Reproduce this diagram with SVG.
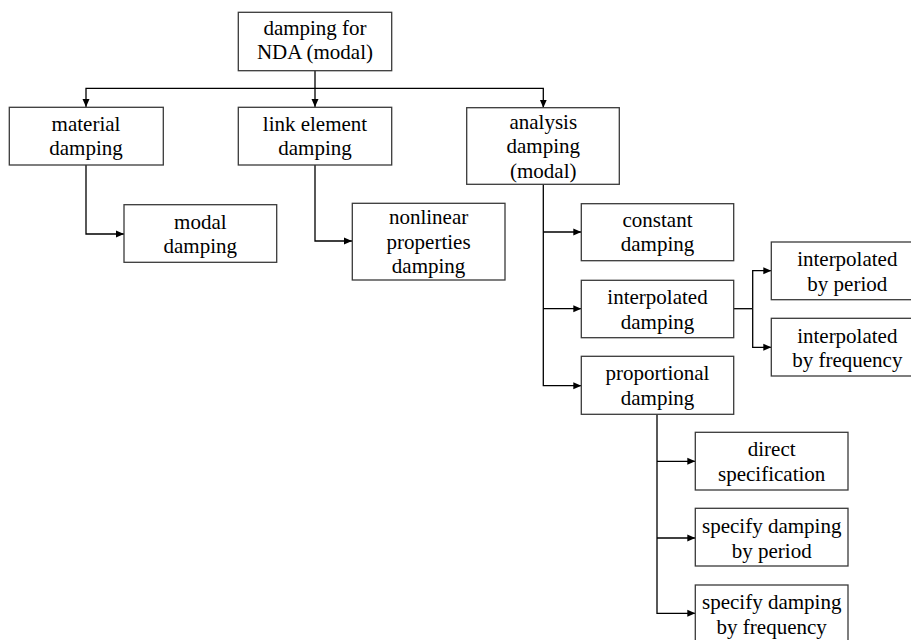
<svg xmlns="http://www.w3.org/2000/svg" width="911" height="640" viewBox="0 0 911 640">
<style>
.box{fill:#fff;stroke:#3a3a3a;stroke-width:1.3}
.t{font-family:'Liberation Serif','DejaVu Serif',serif;font-size:21px;fill:#000;text-anchor:middle}
.c{fill:none;stroke:#000;stroke-width:1.3}
</style>
<defs>
<marker id="ah" markerUnits="userSpaceOnUse" markerWidth="9" markerHeight="8" refX="8" refY="4" orient="auto">
<path d="M0,0.5 L8,4 L0,7.5 z" fill="#000"/>
</marker>
</defs>
<rect width="911" height="640" fill="#fff"/>
<g id="connectors">
<path class="c" d="M315,71 V107"  marker-end="url(#ah)"/>
<path class="c" d="M315,88.3 H86 V107" marker-end="url(#ah)"/>
<path class="c" d="M315,88.3 H543.3 V107.7" marker-end="url(#ah)"/>
<path class="c" d="M86,165 V234 H124" marker-end="url(#ah)"/>
<path class="c" d="M315,165 V241 H352" marker-end="url(#ah)"/>
<path class="c" d="M543.3,184.3 V385.7 H581.3" marker-end="url(#ah)"/>
<path class="c" d="M543.3,232 H581.3" marker-end="url(#ah)"/>
<path class="c" d="M543.3,308.7 H581.3" marker-end="url(#ah)"/>
<path class="c" d="M733.7,308.7 H752.7"/>
<path class="c" d="M752.7,308.7 V270.7 H771.3" marker-end="url(#ah)"/>
<path class="c" d="M752.7,308.7 V347.3 H771.3" marker-end="url(#ah)"/>
<path class="c" d="M657,414.3 V613.3 H695.3" marker-end="url(#ah)"/>
<path class="c" d="M657,461.3 H695.3" marker-end="url(#ah)"/>
<path class="c" d="M657,538 H695.3" marker-end="url(#ah)"/>
</g>
<g id="root">
<rect class="box" x="238.3" y="12.3" width="153.4" height="58.4"/>
<text class="t" x="315" y="35">damping for</text>
<text class="t" x="315" y="59.3">NDA (modal)</text>
</g>
<g id="material">
<rect class="box" x="9.3" y="107.3" width="154" height="57.7"/>
<text class="t" x="86" y="131">material</text>
<text class="t" x="86" y="155.3">damping</text>
</g>
<g id="link">
<rect class="box" x="238.3" y="107.3" width="153.4" height="57.7"/>
<text class="t" x="315" y="131">link element</text>
<text class="t" x="315" y="155.3">damping</text>
</g>
<g id="analysis">
<rect class="box" x="466.7" y="107.7" width="152.6" height="76.6"/>
<text class="t" x="543.3" y="129">analysis</text>
<text class="t" x="543.3" y="153.3">damping</text>
<text class="t" x="543.3" y="178">(modal)</text>
</g>
<g id="modal">
<rect class="box" x="124" y="204.7" width="152.7" height="57.6"/>
<text class="t" x="200.3" y="229">modal</text>
<text class="t" x="200.3" y="253.3">damping</text>
</g>
<g id="nonlinear">
<rect class="box" x="352.3" y="203.3" width="152.7" height="76.7"/>
<text class="t" x="428.6" y="224">nonlinear</text>
<text class="t" x="428.6" y="248.5">properties</text>
<text class="t" x="428.6" y="272.5">damping</text>
</g>
<g id="constant">
<rect class="box" x="581.3" y="203.7" width="152.4" height="57"/>
<text class="t" x="657.5" y="226.7">constant</text>
<text class="t" x="657.5" y="250.8">damping</text>
</g>
<g id="interpolated">
<rect class="box" x="581.3" y="280.3" width="152.4" height="57.4"/>
<text class="t" x="657.5" y="304.3">interpolated</text>
<text class="t" x="657.5" y="328.7">damping</text>
</g>
<g id="proportional">
<rect class="box" x="581.3" y="356.3" width="152.4" height="58"/>
<text class="t" x="657.5" y="380.3">proportional</text>
<text class="t" x="657.5" y="404.6">damping</text>
</g>
<g id="by-period">
<rect class="box" x="771.3" y="242" width="152.4" height="57.7"/>
<text class="t" x="847.3" y="266">interpolated</text>
<text class="t" x="847.3" y="290.5">by period</text>
</g>
<g id="by-frequency">
<rect class="box" x="771.3" y="318.3" width="152.4" height="57.7"/>
<text class="t" x="847.3" y="342.5">interpolated</text>
<text class="t" x="847.3" y="366.8">by frequency</text>
</g>
<g id="direct">
<rect class="box" x="695.3" y="432.3" width="152.7" height="57.7"/>
<text class="t" x="771.7" y="455.7">direct</text>
<text class="t" x="771.7" y="480.5">specification</text>
</g>
<g id="spec-period">
<rect class="box" x="695.3" y="508.3" width="152.7" height="57.7"/>
<text class="t" x="771.7" y="532.7">specify damping</text>
<text class="t" x="771.7" y="557.5">by period</text>
</g>
<g id="spec-frequency">
<rect class="box" x="695.3" y="585" width="152.7" height="58"/>
<text class="t" x="771.7" y="609.3">specify damping</text>
<text class="t" x="771.7" y="634">by frequency</text>
</g>
</svg>
